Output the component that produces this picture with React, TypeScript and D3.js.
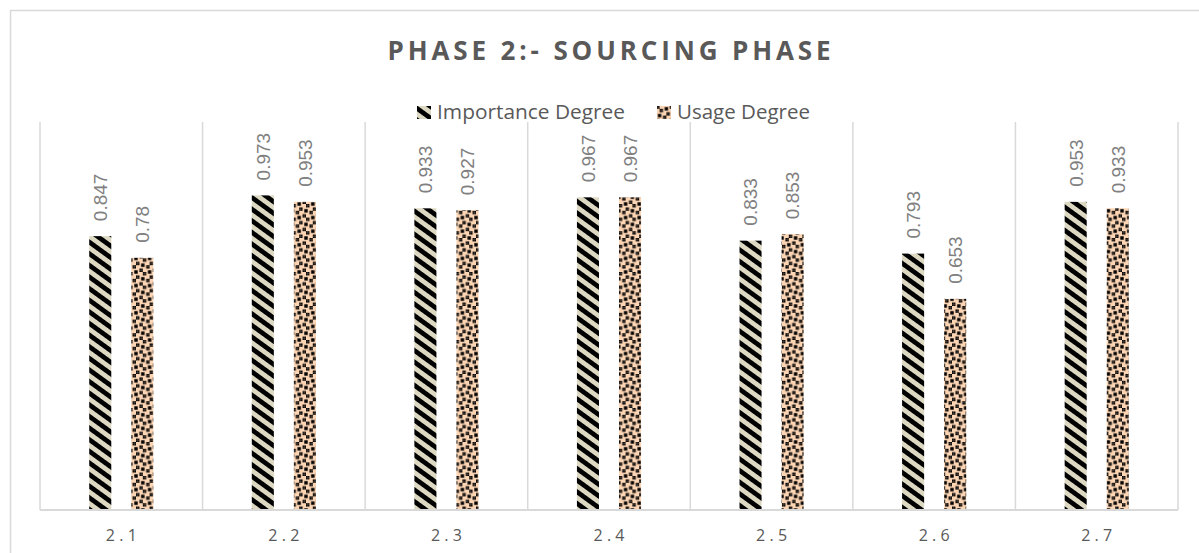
import React from "react";
import * as d3 from "d3";

const categories = ["2.1", "2.2", "2.3", "2.4", "2.5", "2.6", "2.7"];
const importanceValues = [0.847, 0.973, 0.933, 0.967, 0.833, 0.793, 0.953];
const usageValues = [0.78, 0.953, 0.927, 0.967, 0.853, 0.653, 0.933];
const seriesNames = ["Importance Degree", "Usage Degree"];
const labelTexts = [
  ["0.847", "0.973", "0.933", "0.967", "0.833", "0.793", "0.953"],
  ["0.78", "0.953", "0.927", "0.967", "0.853", "0.653", "0.933"],
];
const titleText = "PHASE 2:- SOURCING PHASE";

const W = 1199;
const H = 553;
const plot = { left: 40, right: 1178, top: 122, bottom: 510 };
const grid = "#d9d9d9";
const textGray = "#595959";
const labelGray = "#808080";
const beige = "#dcd8c2";
const peach = "#fcd5b4";

// large confetti bitmap (8x8)
const confetti = [0x8d, 0x0c, 0xc0, 0xd8, 0x1b, 0x03, 0x30, 0xb1];

export default function App() {
  const x = d3
    .scaleBand<string>()
    .domain(categories)
    .range([plot.left, plot.right])
    .padding(0);
  const x1 = d3
    .scaleBand<string>()
    .domain(seriesNames)
    .range([0, x.bandwidth()])
    .paddingInner(0.476)
    .paddingOuter(1.17);
  const y = d3.scaleLinear().domain([0, 1.2]).range([plot.bottom, plot.top]);

  const series = [importanceValues, usageValues];
  const fills = ["url(#pImp)", "url(#pUse)"];
  const px = 1.7;
  const confettiRects: JSX.Element[] = [];
  confetti.forEach((row, r) => {
    for (let c = 0; c < 8; c++) {
      if (row & (1 << (7 - c))) {
        confettiRects.push(
          <rect key={`${r}-${c}`} x={c * px} y={r * px} width={px} height={px} fill="#000" />
        );
      }
    }
  });

  const boundaries = categories.map((c) => x(c)!).concat([plot.right]);
  const fs = 19;
  const sp = 9.4;

  return (
    <div style={{ position: "fixed", left: 0, top: 0 }}>
      <svg width={W} height={H} style={{ display: "block", background: "#fff" }}>
        <defs>
          <pattern
            id="pImp"
            patternUnits="userSpaceOnUse"
            width={sp}
            height={sp}
            patternTransform="rotate(36)"
          >
            <rect width={sp} height={sp} fill={beige} />
            <rect width={sp} height={sp / 2} fill="#000" />
          </pattern>
          <pattern id="pUse" patternUnits="userSpaceOnUse" width={8 * px} height={8 * px}>
            <rect width={8 * px} height={8 * px} fill={peach} />
            {confettiRects}
          </pattern>
        </defs>

        <rect x={10.5} y={10.5} width={1220} height={580} fill="#fff" stroke={grid} strokeWidth={1.5} />

        <text
          x={(plot.left + plot.right) / 2}
          y={60}
          textAnchor="middle"
          fontFamily="'Open Sans', sans-serif"
          fontWeight={700}
          fontSize={26}
          fill={textGray}
          textLength={443}
          lengthAdjust="spacing"
        >
          {titleText}
        </text>

        {/* legend */}
        {seriesNames.map((s, i) => {
          const lx = [417, 657][i];
          const tl = [188, 133][i];
          return (
            <g key={s}>
              <rect x={lx} y={106} width={14} height={13} fill={fills[i]} />
              <text
                x={lx + 20}
                y={119}
                fontFamily="'Open Sans', sans-serif"
                fontSize={19.5}
                fill={textGray}
                textLength={tl}
                lengthAdjust="spacingAndGlyphs"
              >
                {s}
              </text>
            </g>
          );
        })}

        {/* gridlines */}
        {boundaries.map((b, i) => (
          <line key={i} x1={b} x2={b} y1={plot.top} y2={plot.bottom} stroke={grid} strokeWidth={1.5} />
        ))}

        {/* bars */}
        {categories.map((c, ci) =>
          series.map((vals, si) => {
            const bx = x(c)! + x1(seriesNames[si])!;
            const by = y(vals[ci]);
            return (
              <rect
                key={`${c}-${si}`}
                x={bx}
                y={by}
                width={x1.bandwidth()}
                height={plot.bottom - by}
                fill={fills[si]}
              />
            );
          })
        )}

        {/* data labels */}
        {categories.map((c, ci) =>
          series.map((vals, si) => {
            const cx = x(c)! + x1(seriesNames[si])! + x1.bandwidth() / 2 + fs * 0.36;
            const cy = y(vals[ci]) - 15;
            return (
              <text
                key={`l-${c}-${si}`}
                transform={`translate(${cx},${cy}) rotate(-90)`}
                fontFamily="'Liberation Sans', Arial, sans-serif"
                fontSize={fs}
                fill={labelGray}
              >
                {labelTexts[si][ci]}
              </text>
            );
          })
        )}

        {/* axis baseline */}
        <line x1={plot.left} x2={plot.right} y1={plot.bottom} y2={plot.bottom} stroke={grid} strokeWidth={2} />

        {/* x labels */}
        {categories.map((c) => (
          <text
            key={`x-${c}`}
            x={x(c)! + x.bandwidth() / 2}
            y={541}
            textAnchor="middle"
            fontFamily="'Open Sans', sans-serif"
            fontSize={16}
            fill={textGray}
            textLength={31}
            lengthAdjust="spacing"
          >
            {c}
          </text>
        ))}
      </svg>
    </div>
  );
}
